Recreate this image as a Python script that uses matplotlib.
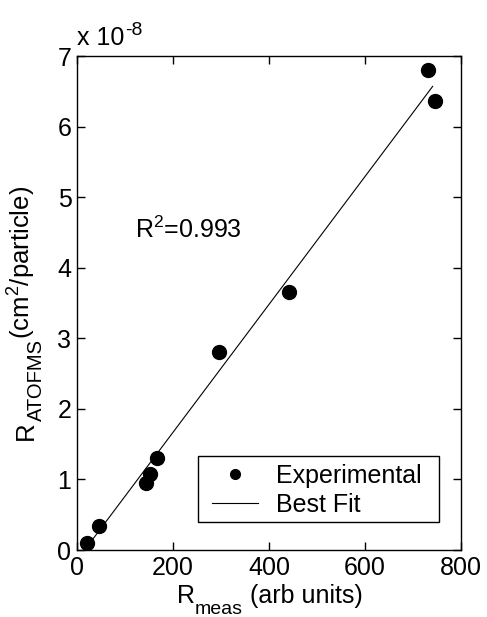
import matplotlib.pyplot as plt
from matplotlib.patches import Rectangle

plt.rcParams["font.family"] = ["Liberation Sans", "DejaVu Sans"]
plt.rcParams["mathtext.fontset"] = "custom"
plt.rcParams["mathtext.rm"] = "Liberation Sans"
plt.rcParams["mathtext.it"] = "Liberation Sans"

# experimental points (R_meas in arb units, R_ATOFMS in units of 1e-8 cm^2/particle)
r_meas = [21, 46, 144, 152, 167, 296, 442, 732, 746]
r_atofms = [0.10, 0.34, 0.95, 1.08, 1.30, 2.80, 3.66, 6.80, 6.36]

# best fit line end points
fit_x = [16, 741]
fit_y = [0.0, 6.57]

x_ticks = [0, 200, 400, 600, 800]
y_ticks = [0, 1, 2, 3, 4, 5, 6, 7]

fs = 18      # main text
fs_sub = 14  # sub/superscripts

W, H = 487, 617
fig = plt.figure(figsize=(W / 100, H / 100), dpi=100)
ax = fig.add_axes([77 / W, 1 - 550 / H, 384 / W, 494 / H])

ax.plot(r_meas, r_atofms, "o", color="black", markersize=10, label="Experimental")
ax.plot(fit_x, fit_y, "-", color="black", linewidth=0.8, label="Best Fit")

ax.set_xlim(0, 800)
ax.set_ylim(0, 7)
ax.set_xticks(x_ticks)
ax.set_yticks(y_ticks)
ax.tick_params(direction="in", length=6, width=1, top=True, right=True,
               labelsize=fs, pad=4)
for s in ax.spines.values():
    s.set_linewidth(1)

# x label: R_meas (arb units)
xl1 = fig.text(177 / W, 1 - 603 / H, "R", fontsize=fs, ha="left", va="baseline")
xl2 = ax.annotate("meas", xy=(1, 0), xycoords=xl1, xytext=(0, -10),
                  textcoords="offset pixels", fontsize=fs_sub, ha="left", va="bottom")
ax.annotate(" (arb units)", xy=(1, 0), xycoords=(xl2, xl1), fontsize=fs,
            ha="left", va="bottom")

# y label: R_ATOFMS(cm^2/particle)
fy = 18.5
yl1 = fig.text(38 / W, 1 - 440 / H, "R", fontsize=fy, rotation=90,
               ha="right", va="bottom")
yl2 = ax.annotate("ATOFMS", xy=(1, 1), xycoords=yl1, xytext=(8, 0),
                  textcoords="offset pixels", fontsize=fs_sub + 0.5, rotation=90,
                  ha="right", va="bottom")
ax.annotate(r"(cm$^{2}$/particle)", xy=(1, 1), xycoords=(yl1, yl2), fontsize=fy,
            rotation=90, ha="right", va="bottom")

# exponent above the axes
e1 = fig.text(77 / W, 1 - 45 / H, "x 10", fontsize=fs, ha="left", va="baseline")
ax.annotate("-8", xy=(1, 1), xycoords=e1, xytext=(1, 4), textcoords="offset pixels",
            fontsize=fs_sub, ha="left", va="top")

ax.text(120, 4.42, r"R$^{2}$=0.993", fontsize=fs, ha="left", va="baseline")

# legend entries without frame, box drawn separately (MATLAB-like padding)
leg = ax.legend(loc="upper left", bbox_to_anchor=(135 / 384, 86.5 / 494), fontsize=fs,
                frameon=False, markerscale=0.7,
                handlelength=1.85, handletextpad=0.7, borderpad=0,
                labelspacing=0.22, borderaxespad=0)
ax.add_patch(Rectangle((121 / 384, 28 / 494), 241 / 384, 66 / 494,
                       transform=ax.transAxes, fill=False, edgecolor="black",
                       linewidth=1, zorder=5))

fig.savefig("out.png", dpi=100)
